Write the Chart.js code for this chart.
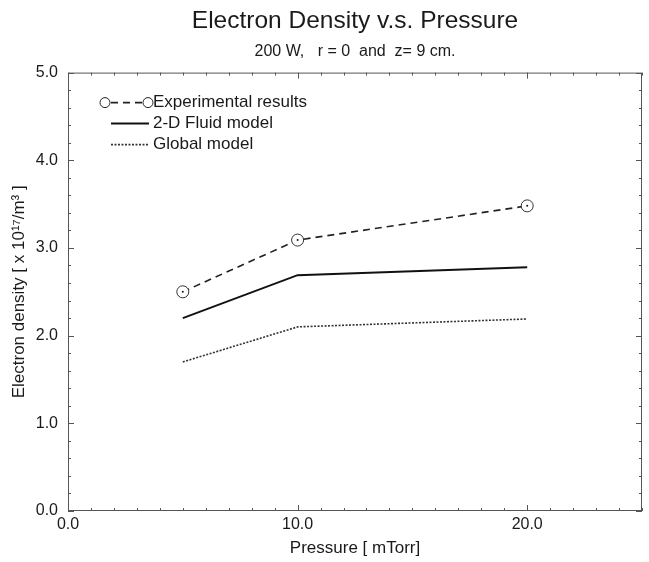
<!DOCTYPE html>
<html>
<head>
<meta charset="utf-8">
<title>Electron Density v.s. Pressure</title>
<script src="https://cdn.jsdelivr.net/npm/chart.js@4.4.1/dist/chart.umd.min.js"></script>
<style>
  html, body { margin: 0; padding: 0; background: #fff; }
  canvas { display: block; }
</style>
</head>
<body>
<canvas id="densityChart" width="649" height="562"></canvas>
<script>
// values (200 W, r = 0, z = 9 cm)
const pressure = [5, 10, 20];
const experimental = [2.5, 3.09, 3.48];
const fluidModel = [2.2, 2.69, 2.78];
const globalModel = [1.7, 2.1, 2.19];

const seriesNames = ['Experimental results', '2-D Fluid model', 'Global model'];
const xTickLabels = ['0.0', '10.0', '20.0'];
const yTickLabels = ['0.0', '1.0', '2.0', '3.0', '4.0', '5.0'];

const FONT = '"Liberation Sans", Arial, Helvetica, sans-serif';
const INK = '#1a1a1a';

function points(ys) {
  return pressure.map((p, i) => ({ x: p, y: ys[i] }));
}

function isWhole(v, step) {
  const q = v / step;
  return Math.abs(q - Math.round(q)) < 1e-6;
}

// box around the plot + small inward tick marks on all four sides
const frameTicks = {
  id: 'frameTicks',
  beforeDatasetsDraw(chart) {
    const { ctx, chartArea: a, scales: { x, y } } = chart;
    ctx.save();
    ctx.strokeStyle = '#555';
    ctx.lineWidth = 1;
    ctx.strokeRect(a.left + 0.5, a.top + 0.5, a.width - 1, a.height - 1);
    ctx.beginPath();
    x.ticks.forEach(t => {
      const px = Math.round(x.getPixelForValue(t.value)) + 0.5;
      const len = isWhole(t.value, 10) ? 6 : 3;
      ctx.moveTo(px, a.bottom); ctx.lineTo(px, a.bottom - len);
      ctx.moveTo(px, a.top); ctx.lineTo(px, a.top + len);
    });
    y.ticks.forEach(t => {
      const py = Math.round(y.getPixelForValue(t.value)) + 0.5;
      const len = isWhole(t.value, 1) ? 6 : 3;
      ctx.moveTo(a.left, py); ctx.lineTo(a.left + len, py);
      ctx.moveTo(a.right, py); ctx.lineTo(a.right - len, py);
    });
    ctx.stroke();
    ctx.restore();
  }
};

// little dot in the middle of each experimental circle
const centreDots = {
  id: 'centreDots',
  afterDatasetsDraw(chart) {
    const { ctx } = chart;
    const meta = chart.getDatasetMeta(0);
    ctx.save();
    ctx.fillStyle = INK;
    meta.data.forEach(pt => {
      ctx.beginPath();
      ctx.arc(pt.x, pt.y, 1, 0, Math.PI * 2);
      ctx.fill();
    });
    ctx.restore();
  }
};

// legend drawn inside the plot, top-left, like the original
const insideLegend = {
  id: 'insideLegend',
  afterDatasetsDraw(chart) {
    const { ctx, chartArea: a } = chart;
    const x0 = a.left + 37, x1 = a.left + 81, y0 = a.top + 30, gap = 21;
    ctx.save();
    ctx.font = '17px ' + FONT;
    ctx.textBaseline = 'middle';
    chart.data.datasets.forEach((ds, i) => {
      const yy = y0 + i * gap;
      ctx.strokeStyle = ds.borderColor;
      ctx.lineWidth = ds.borderWidth;
      ctx.setLineDash(ds.borderDash || []);
      ctx.beginPath();
      if (i === 0) {
        ctx.moveTo(x0 + 6, yy); ctx.lineTo(x1 - 6, yy);
      } else {
        ctx.moveTo(x0 + 6, yy); ctx.lineTo(x1, yy);
      }
      ctx.stroke();
      ctx.setLineDash([]);
      if (i === 0) {
        ctx.lineWidth = 1;
        [x0, x1 - 1].forEach(cx => {
          ctx.beginPath();
          ctx.arc(cx, yy, 5, 0, Math.PI * 2);
          ctx.fillStyle = '#fff';
          ctx.fill();
          ctx.stroke();
        });
      }
      ctx.fillStyle = INK;
      ctx.fillText(ds.label, x1 + 4, yy);
    });
    ctx.restore();
  }
};

new Chart(document.getElementById('densityChart').getContext('2d'), {
  type: 'line',
  data: {
    datasets: [
      {
        label: seriesNames[0],
        data: points(experimental),
        borderColor: '#222',
        borderWidth: 1.6,
        borderDash: [7, 5],
        pointStyle: 'circle',
        pointRadius: 6,
        pointBorderWidth: 1,
        pointBorderColor: '#333',
        pointBackgroundColor: '#fff',
        tension: 0
      },
      {
        label: seriesNames[1],
        data: points(fluidModel),
        borderColor: '#111',
        borderWidth: 2,
        pointRadius: 0,
        tension: 0
      },
      {
        label: seriesNames[2],
        data: points(globalModel),
        borderColor: '#333',
        borderWidth: 1.6,
        borderDash: [2, 1.5],
        pointRadius: 0,
        tension: 0
      }
    ]
  },
  options: {
    responsive: false,
    animation: false,
    layout: { padding: { left: 7, right: 1, top: 0, bottom: 2 } },
    plugins: {
      legend: { display: false },
      tooltip: { enabled: false },
      title: {
        display: true,
        fullSize: false,
        text: 'Electron Density v.s. Pressure',
        color: INK,
        font: { family: FONT, size: 24.5, weight: 'normal' },
        padding: { top: 7, bottom: 5 }
      },
      subtitle: {
        display: true,
        fullSize: false,
        text: '200 W,   r = 0  and  z= 9 cm.',
        color: INK,
        font: { family: FONT, size: 16, weight: 'normal' },
        padding: { top: 1, bottom: 11 }
      }
    },
    scales: {
      x: {
        type: 'linear',
        min: 0,
        max: 25,
        grid: { display: false, drawTicks: false },
        border: { display: false },
        ticks: {
          stepSize: 1,
          autoSkip: false,
          maxRotation: 0,
          padding: 4,
          color: INK,
          font: { family: FONT, size: 16 },
          callback: v => isWhole(v, 10) ? xTickLabels[Math.round(v / 10)] : ''
        },
        title: {
          display: true,
          text: 'Pressure [ mTorr]',
          color: INK,
          font: { family: FONT, size: 17 },
          padding: { top: 4, bottom: 1 }
        },
        afterFit(scale) { scale.height = 49; }
      },
      y: {
        min: 0,
        max: 5,
        grid: { display: false, drawTicks: false },
        border: { display: false },
        ticks: {
          stepSize: 0.2,
          autoSkip: false,
          padding: 10,
          color: INK,
          font: { family: FONT, size: 16 },
          callback: v => isWhole(v, 1) ? yTickLabels[Math.round(v)] : ''
        },
        title: {
          display: true,
          text: 'Electron density [ x 10\u00B9\u2077/m\u00B3 ]',
          color: INK,
          font: { family: FONT, size: 17 },
          padding: { top: 2, bottom: 2 }
        },
        afterFit(scale) { scale.width = 61; }
      }
    }
  },
  plugins: [frameTicks, centreDots, insideLegend]
});
</script>
</body>
</html>
